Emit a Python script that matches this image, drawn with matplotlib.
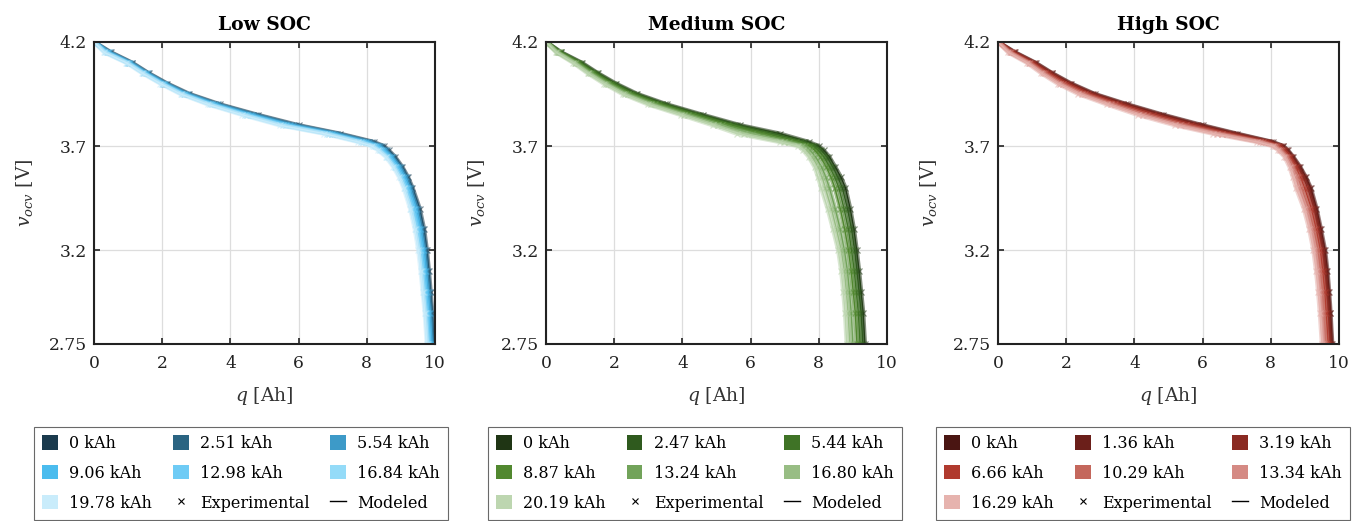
import numpy as np
import matplotlib
matplotlib.use('Agg')
import matplotlib.pyplot as plt
from matplotlib.patches import Patch
from matplotlib.lines import Line2D

plt.rcParams['font.family'] = ['DejaVu Serif']
plt.rcParams['mathtext.fontset'] = 'dejavuserif'

# voltage levels shared by every curve [V]
v_grid = [4.20, 4.15, 4.10, 4.05, 4.00, 3.95, 3.90, 3.85, 3.80, 3.76, 3.72, 3.70, 3.68,
          3.65, 3.60, 3.55, 3.50, 3.40, 3.30, 3.20, 3.10, 3.00, 2.90, 2.75]

# charge [Ah] at each voltage level, one row per ageing state
low_labels = ['0 kAh', '2.51 kAh', '5.54 kAh', '9.06 kAh', '12.98 kAh', '16.84 kAh', '19.78 kAh']
low_colors = ['#1a3a4d', '#2a6482', '#3d9ac8', '#4bbcee', '#6ecbf5', '#94dbf8', '#c9ecfb']
low_q = [
    [0.0, 0.50, 1.12, 1.60, 2.15, 2.80, 3.70, 4.80, 6.00, 7.20, 8.20, 8.50, 8.64, 8.82, 9.04, 9.21, 9.34, 9.55, 9.68, 9.76, 9.82, 9.87, 9.92, 9.97],
    [0.0, 0.47, 1.10, 1.58, 2.12, 2.76, 3.65, 4.74, 5.93, 7.14, 8.14, 8.45, 8.60, 8.78, 9.01, 9.18, 9.31, 9.51, 9.64, 9.73, 9.79, 9.84, 9.89, 9.94],
    [0.0, 0.44, 1.07, 1.55, 2.09, 2.72, 3.60, 4.67, 5.85, 7.07, 8.07, 8.40, 8.55, 8.74, 8.97, 9.14, 9.27, 9.47, 9.60, 9.69, 9.75, 9.81, 9.86, 9.91],
    [0.0, 0.41, 1.04, 1.52, 2.06, 2.68, 3.54, 4.59, 5.75, 6.99, 7.99, 8.34, 8.50, 8.70, 8.92, 9.09, 9.22, 9.42, 9.56, 9.65, 9.71, 9.76, 9.82, 9.87],
    [0.0, 0.37, 1.01, 1.48, 2.02, 2.63, 3.47, 4.50, 5.64, 6.90, 7.90, 8.27, 8.44, 8.64, 8.87, 9.04, 9.17, 9.37, 9.50, 9.60, 9.66, 9.72, 9.77, 9.83],
    [0.0, 0.33, 0.98, 1.45, 1.98, 2.58, 3.40, 4.42, 5.53, 6.82, 7.82, 8.20, 8.38, 8.59, 8.82, 8.99, 9.12, 9.31, 9.45, 9.55, 9.62, 9.67, 9.73, 9.79],
    [0.0, 0.30, 0.95, 1.42, 1.95, 2.54, 3.35, 4.35, 5.45, 6.75, 7.75, 8.15, 8.33, 8.55, 8.78, 8.95, 9.08, 9.27, 9.41, 9.51, 9.58, 9.64, 9.70, 9.76],
]

med_labels = ['0 kAh', '2.47 kAh', '5.44 kAh', '8.87 kAh', '13.24 kAh', '16.80 kAh', '20.19 kAh']
med_colors = ['#1f3514', '#2f5a1e', '#3f7326', '#51882f', '#72a35a', '#98bd84', '#bdd6b0']
med_q = [
    [0.0, 0.45, 1.05, 1.52, 2.05, 2.68, 3.55, 4.60, 5.70, 6.85, 7.70, 8.00, 8.14, 8.30, 8.48, 8.65, 8.78, 8.92, 9.03, 9.11, 9.18, 9.24, 9.30, 9.35],
    [0.0, 0.43, 1.02, 1.49, 2.01, 2.63, 3.48, 4.52, 5.60, 6.70, 7.60, 7.93, 8.07, 8.23, 8.41, 8.56, 8.69, 8.84, 8.96, 9.05, 9.12, 9.18, 9.24, 9.29],
    [0.0, 0.41, 0.98, 1.44, 1.96, 2.56, 3.40, 4.42, 5.48, 6.51, 7.47, 7.84, 7.98, 8.14, 8.32, 8.47, 8.59, 8.74, 8.87, 8.96, 9.04, 9.10, 9.16, 9.21],
    [0.0, 0.38, 0.94, 1.39, 1.90, 2.49, 3.31, 4.31, 5.35, 6.30, 7.33, 7.74, 7.88, 8.04, 8.22, 8.36, 8.47, 8.63, 8.76, 8.87, 8.95, 9.01, 9.07, 9.12],
    [0.0, 0.35, 0.89, 1.33, 1.82, 2.40, 3.19, 4.17, 5.17, 6.03, 7.14, 7.60, 7.74, 7.90, 8.08, 8.21, 8.31, 8.48, 8.63, 8.75, 8.84, 8.90, 8.95, 9.00],
    [0.0, 0.33, 0.84, 1.27, 1.76, 2.32, 3.09, 4.06, 5.04, 5.81, 6.99, 7.50, 7.64, 7.80, 7.98, 8.10, 8.19, 8.37, 8.52, 8.66, 8.75, 8.81, 8.86, 8.91],
    [0.0, 0.30, 0.80, 1.22, 1.70, 2.25, 3.00, 3.95, 4.90, 5.60, 6.85, 7.40, 7.54, 7.70, 7.88, 7.98, 8.07, 8.26, 8.42, 8.57, 8.66, 8.72, 8.77, 8.82],
]

high_labels = ['0 kAh', '1.36 kAh', '3.19 kAh', '6.66 kAh', '10.29 kAh', '13.34 kAh', '16.29 kAh']
high_colors = ['#4a1512', '#6b1f1a', '#8a2a22', '#b03a2e', '#c4675c', '#d58a84', '#e6b3ae']
high_q = [
    [0.0, 0.50, 1.10, 1.59, 2.15, 2.84, 3.80, 4.85, 6.00, 7.00, 8.05, 8.37, 8.50, 8.65, 8.86, 9.03, 9.17, 9.34, 9.47, 9.59, 9.66, 9.71, 9.75, 9.80],
    [0.0, 0.48, 1.08, 1.57, 2.12, 2.80, 3.75, 4.79, 5.94, 6.94, 8.01, 8.35, 8.48, 8.63, 8.84, 9.01, 9.14, 9.31, 9.44, 9.56, 9.63, 9.68, 9.73, 9.78],
    [0.0, 0.46, 1.05, 1.53, 2.07, 2.75, 3.68, 4.70, 5.84, 6.86, 7.96, 8.31, 8.44, 8.60, 8.80, 8.95, 9.08, 9.27, 9.40, 9.52, 9.59, 9.65, 9.69, 9.74],
    [0.0, 0.42, 1.00, 1.47, 1.99, 2.65, 3.55, 4.54, 5.67, 6.71, 7.87, 8.25, 8.39, 8.55, 8.73, 8.87, 8.99, 9.19, 9.33, 9.45, 9.52, 9.58, 9.62, 9.68],
    [0.0, 0.37, 0.94, 1.39, 1.90, 2.54, 3.42, 4.38, 5.50, 6.56, 7.77, 8.18, 8.32, 8.49, 8.66, 8.79, 8.90, 9.11, 9.26, 9.38, 9.45, 9.51, 9.55, 9.61],
    [0.0, 0.34, 0.90, 1.33, 1.82, 2.45, 3.31, 4.24, 5.34, 6.43, 7.68, 8.12, 8.27, 8.45, 8.61, 8.73, 8.82, 9.04, 9.19, 9.31, 9.39, 9.45, 9.50, 9.55],
    [0.0, 0.30, 0.85, 1.27, 1.75, 2.36, 3.20, 4.10, 5.20, 6.30, 7.60, 8.07, 8.22, 8.40, 8.55, 8.65, 8.74, 8.97, 9.13, 9.25, 9.33, 9.39, 9.44, 9.50],
]

titles = ['Low SOC', 'Medium SOC', 'High SOC']
panels = [(low_q, low_labels, low_colors),
          (med_q, med_labels, med_colors),
          (high_q, high_labels, high_colors)]

fig = plt.figure(figsize=(13.68, 5.21), dpi=100)
lefts = [94 / 1368, 546 / 1368, 998 / 1368]
leg_x = [34 / 1368, 488 / 1368, 936 / 1368]

for i, (qs, labels, colors) in enumerate(panels):
    ax = fig.add_axes([lefts[i], 177 / 521, 341 / 1368, 302 / 521])
    for q, c in zip(qs, colors):
        # experimental points, then the model fit on top
        ax.plot(q, v_grid, color=c, lw=3.2, alpha=0.55, marker='x', ms=4.5, mew=0.9)
        ax.plot(q, v_grid, color=c, lw=1.0)

    ax.set_xlim(0, 10)
    ax.set_ylim(2.75, 4.2)
    ax.set_xticks([0, 2, 4, 6, 8, 10])
    ax.set_yticks([2.75, 3.2, 3.7, 4.2])
    ax.set_yticklabels(['2.75', '3.2', '3.7', '4.2'])
    ax.tick_params(direction='in', top=True, right=True, length=4, width=1.2,
                   labelsize=12.3, colors='#222222')
    ax.tick_params(axis='x', pad=8)
    ax.tick_params(axis='y', pad=5)
    ax.grid(True, color='#dddddd', lw=0.9)
    ax.set_axisbelow(True)
    for s in ax.spines.values():
        s.set_linewidth(1.5)
        s.set_color('#222222')
    ax.set_title(titles[i], fontsize=13.5, fontweight='bold', pad=9)
    ax.set_xlabel(r'$q$ [Ah]', fontsize=13.5, color='#333333', labelpad=9)
    ax.set_ylabel(r'$v_{ocv}$ [V]', fontsize=13.5, color='#333333', labelpad=10)

    h = [Patch(facecolor=c, edgecolor='none') for c in colors]
    h_exp = Line2D([], [], color='black', marker='x', ls='none', ms=4, mew=0.8)
    h_mod = Line2D([], [], color='black', lw=1.0)
    handles = [h[0], h[3], h[6], h[1], h[4], h_exp, h[2], h[5], h_mod]
    names = [labels[0], labels[3], labels[6], labels[1], labels[4], 'Experimental',
             labels[2], labels[5], 'Modeled']
    leg = fig.legend(handles, names, ncol=3, loc='upper left',
                     bbox_to_anchor=(leg_x[i], 1 - 427 / 521), fontsize=11.5,
                     frameon=True, fancybox=False, edgecolor='#444444',
                     handlelength=1.0, handleheight=1.0, handletextpad=0.7,
                     columnspacing=1.3, labelspacing=0.8, borderpad=0.5,
                     borderaxespad=0)
    leg.get_frame().set_linewidth(0.8)

fig.savefig('out.png', dpi=100)
